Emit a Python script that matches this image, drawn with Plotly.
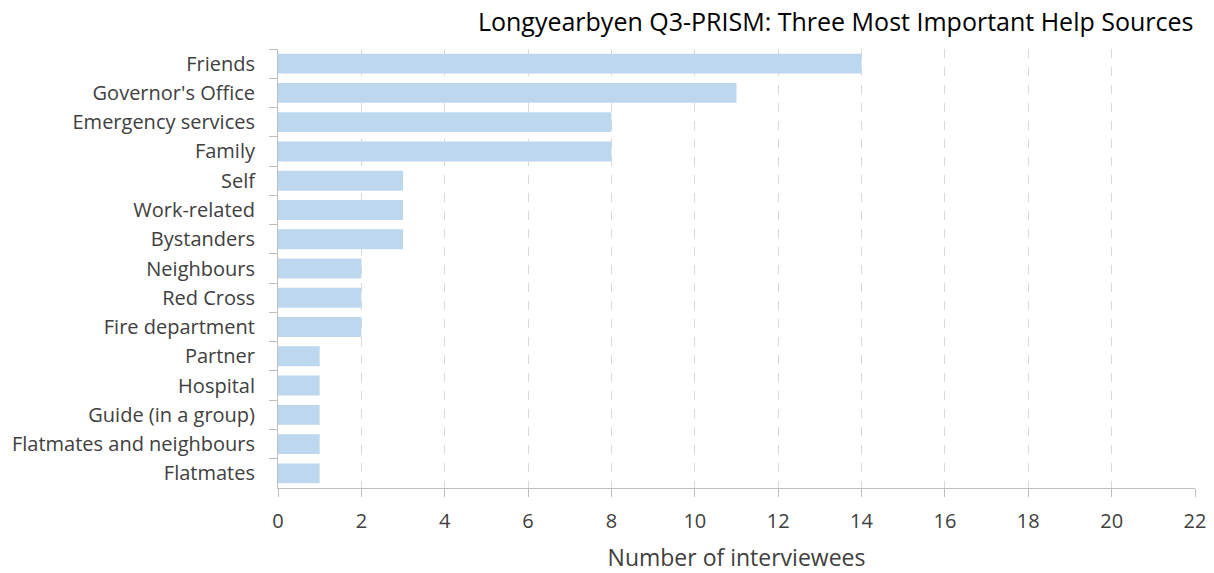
import plotly.graph_objects as go

categories = ["Friends", "Governor's Office", "Emergency services", "Family", "Self",
              "Work-related", "Bystanders", "Neighbours", "Red Cross", "Fire department",
              "Partner", "Hospital", "Guide (in a group)", "Flatmates and neighbours", "Flatmates"]
values = [14, 11, 8, 8, 3, 3, 3, 2, 2, 2, 1, 1, 1, 1, 1]
x_ticks = list(range(0, 23, 2))

FONT = "Open Sans"
TXT = "#404040"

W, H = 1214, 573

fig = go.Figure(go.Bar(
    y=categories, x=values, orientation="h",
    marker=dict(color="#BDD7EE", line=dict(width=0)),
    width=0.68,
))

fig.update_layout(
    width=W, height=H,
    margin=dict(l=278, r=19, t=49, b=85, autoexpand=False),
    plot_bgcolor="white", paper_bgcolor="white",
    showlegend=False,
    title=dict(text="Longyearbyen Q3-PRISM: Three Most Important Help Sources",
               x=1212 / W, xanchor="right", xref="paper", y=1 - 22 / H, yanchor="middle",
               font=dict(family=FONT, size=25, color="#000000")),
    font=dict(family=FONT, size=20, color=TXT),
)

fig.update_xaxes(
    range=[0, 22], tickvals=x_ticks, ticktext=[str(v) for v in x_ticks],
    showgrid=True, gridcolor="#D9D9D9", griddash="dash", gridwidth=1,
    showline=True, linecolor="#BFBFBF", linewidth=1,
    ticks="outside", ticklen=8, tickcolor="#BFBFBF",
    tickfont=dict(family=FONT, size=20, color=TXT),
    ticklabelstandoff=7,
    title=dict(text="Number of interviewees", font=dict(family=FONT, size=23, color=TXT), standoff=18),
    zeroline=False, automargin=False,
)
fig.update_yaxes(
    categoryorder="array", categoryarray=categories, autorange="reversed",
    showline=True, linecolor="#BFBFBF", linewidth=1,
    ticks="outside", ticklen=8, tickcolor="#BFBFBF", tickson="boundaries",
    tickfont=dict(family=FONT, size=20, color=TXT),
    showgrid=False, ticklabelstandoff=18, automargin=False,
)

fig.write_html("out.html", config={"displayModeBar": False},
               post_script="document.body.style.margin='0';")
